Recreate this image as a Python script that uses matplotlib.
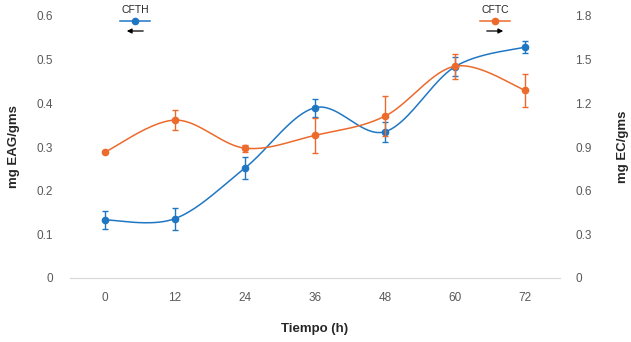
import numpy as np
import matplotlib
matplotlib.use("Agg")
import matplotlib.pyplot as plt

plt.rcParams["font.family"] = ["Liberation Sans", "DejaVu Sans"]

horas = ["0", "12", "24", "36", "48", "60", "72"]
cfth = [0.133, 0.136, 0.252, 0.390, 0.335, 0.484, 0.529]
cfth_err = [0.021, 0.025, 0.026, 0.021, 0.023, 0.022, 0.014]
cftc = [0.865, 1.085, 0.892, 0.980, 1.112, 1.455, 1.290]
cftc_err = [0.0, 0.07, 0.025, 0.12, 0.135, 0.087, 0.112]

azul = "#1f77c4"
naranja = "#ec6a2c"
gris = "#595959"


def suavizar(x, y, n=40):
    # curva suavizada tipo Excel (Bezier con tangentes Catmull-Rom)
    x = np.asarray(x, float)
    y = np.asarray(y, float)
    px = np.concatenate([[x[0]], x, [x[-1]]])
    py = np.concatenate([[y[0]], y, [y[-1]]])
    xs, ys = [], []
    for i in range(1, len(px) - 2):
        p0 = np.array([px[i - 1], py[i - 1]])
        p1 = np.array([px[i], py[i]])
        p2 = np.array([px[i + 1], py[i + 1]])
        p3 = np.array([px[i + 2], py[i + 2]])
        c1 = p1 + (p2 - p0) / 6
        c2 = p2 - (p3 - p1) / 6
        t = np.linspace(0, 1, n)[:, None]
        b = (1 - t) ** 3 * p1 + 3 * (1 - t) ** 2 * t * c1 + 3 * (1 - t) * t ** 2 * c2 + t ** 3 * p2
        xs.extend(b[:, 0])
        ys.extend(b[:, 1])
    return np.array(xs), np.array(ys)


fig = plt.figure(figsize=(6.31, 3.42), dpi=100)
ax = fig.add_axes([70 / 631, 1 - 278 / 342, 490 / 631, 262 / 342])
ax2 = ax.twinx()

x = np.arange(len(horas))

sx, sy = suavizar(x, cfth)
ax.plot(sx, sy, color=azul, lw=1.1, zorder=3)
ax.errorbar(x, cfth, yerr=cfth_err, fmt="o", color=azul, ms=4.5, elinewidth=1,
            capsize=2.5, capthick=1, zorder=4)

sx, sy = suavizar(x, cftc)
ax2.plot(sx, sy, color=naranja, lw=1.1, zorder=3)
ax2.errorbar(x, cftc, yerr=cftc_err, fmt="o", color=naranja, ms=4.5, elinewidth=1,
             capsize=2.5, capthick=1, zorder=4)

ax.set_xlim(-0.5, 6.5)
ax.set_ylim(0, 0.6)
ax2.set_ylim(0, 1.8)
ax.set_xticks(x)
ax.set_xticklabels(horas)
ax.set_yticks(np.arange(0, 0.61, 0.1))
ax.set_yticklabels(["0", "0.1", "0.2", "0.3", "0.4", "0.5", "0.6"])
ax2.set_yticks(np.arange(0, 1.81, 0.3))
ax2.set_yticklabels(["0", "0.3", "0.6", "0.9", "1.2", "1.5", "1.8"])

for a in (ax, ax2):
    for s in ("top", "left", "right"):
        a.spines[s].set_visible(False)
    a.spines["bottom"].set_color("#d9d9d9")
    a.tick_params(length=0, labelsize=8.5, colors=gris)
ax.tick_params(axis="y", pad=12)
ax2.tick_params(axis="y", pad=11)
ax.tick_params(axis="x", pad=10)

ax.set_xlabel("Tiempo (h)", fontsize=9.5, fontweight="bold", color="#262626", labelpad=14)
ax.set_ylabel("mg EAG/gms", fontsize=9.5, fontweight="bold", color="#262626", labelpad=12)
ax2.set_ylabel("mg EC/gms", fontsize=9.5, fontweight="bold", color="#262626", labelpad=18)

# leyendas con flechas
for cx, nombre, col, dx in [(135, "CFTH", azul, -1), (495, "CFTC", naranja, 1)]:
    fx = cx / 631
    fig.text(fx, 1 - 10 / 342, nombre, ha="center", va="center", fontsize=7.5, color="#262626")
    fig.add_artist(plt.Line2D([fx - 15 / 631, fx + 15 / 631], [1 - 21 / 342] * 2,
                              color=col, lw=1.1, transform=fig.transFigure))
    fig.add_artist(plt.Line2D([fx], [1 - 21 / 342], marker="o", ms=4.5, color=col,
                              transform=fig.transFigure))
    y0 = 1 - 31 / 342
    if dx < 0:
        ini, fin = (fx + 11 / 631, y0), (fx - 11 / 631, y0)
    else:
        ini, fin = (fx - 11 / 631, y0), (fx + 11 / 631, y0)
    fig.add_artist(matplotlib.patches.FancyArrowPatch(ini, fin, transform=fig.transFigure,
                                                      arrowstyle="-|>", mutation_scale=7,
                                                      color="black", lw=0.9))

fig.savefig("out.png", dpi=100)
